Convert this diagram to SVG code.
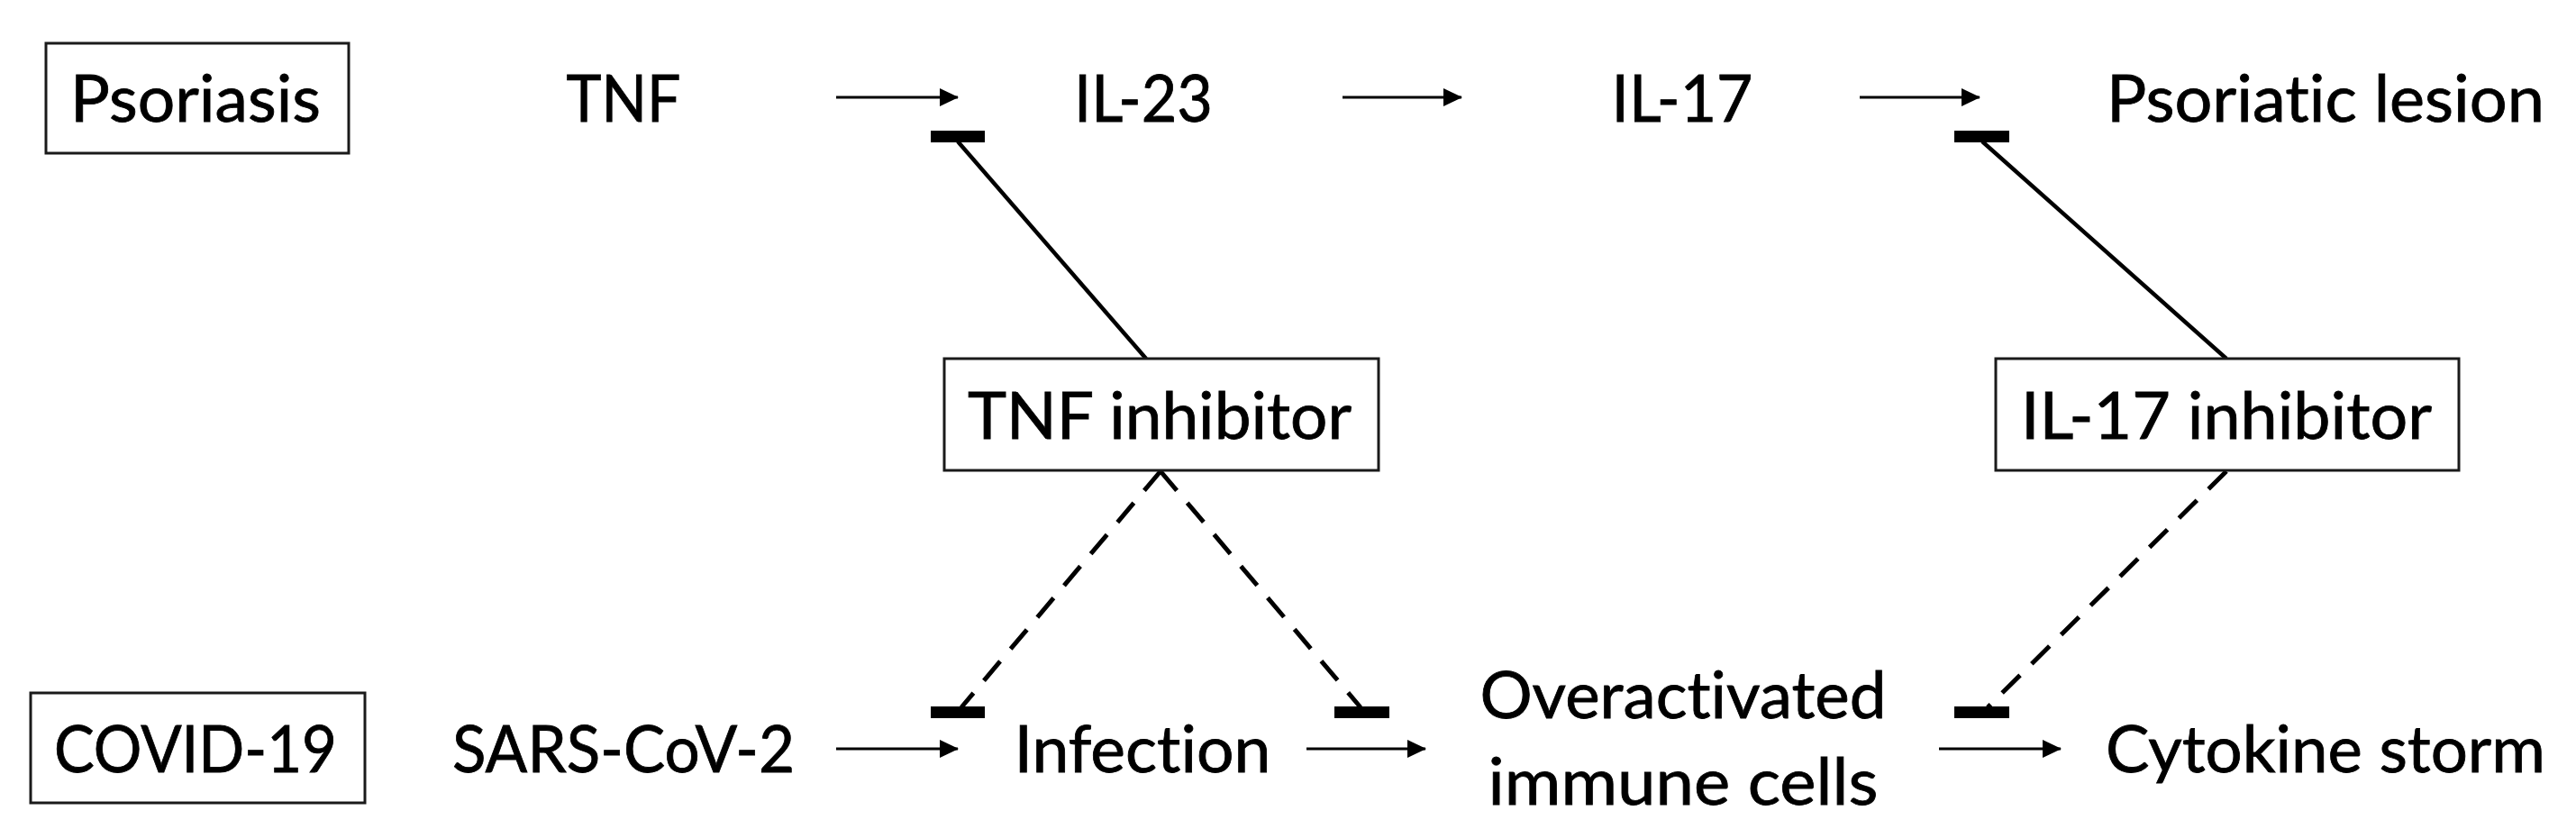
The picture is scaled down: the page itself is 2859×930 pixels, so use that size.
<svg xmlns="http://www.w3.org/2000/svg" width="2859" height="930" viewBox="0 0 2859 930">
<style>
  text { font-family: Lato, "Open Sans", "Liberation Sans", sans-serif; font-size: 71px; fill: #000; stroke: #000; stroke-width: 0.8; text-anchor: middle; font-variant-ligatures: none; font-feature-settings: "liga" 0, "clig" 0; }
  .box { fill: #fff; stroke: #1a1a1a; stroke-width: 3; }
  .arrow { stroke: #000; stroke-width: 3; fill: none; marker-end: url(#head); }
  .inh { stroke: #000; stroke-width: 4.5; fill: none; }
  .dash { stroke: #000; stroke-width: 5; fill: none; stroke-dasharray: 28 18; }
  .bar { fill: #000; }
</style>
<defs>
  <marker id="head" markerUnits="userSpaceOnUse" markerWidth="22" markerHeight="22" refX="20" refY="10" orient="auto">
    <path d="M0,0 L21,10 L0,20 z" fill="#000"/>
  </marker>
</defs>
<rect width="2859" height="930" fill="#fff"/>

<g id="connectors">
  <line class="arrow" x1="928" y1="108" x2="1063" y2="108"/>
  <line class="arrow" x1="1490" y1="108" x2="1622" y2="108"/>
  <line class="arrow" x1="2064" y1="108" x2="2197" y2="108"/>
  <line class="arrow" x1="928" y1="831" x2="1063" y2="831"/>
  <line class="arrow" x1="1450" y1="831" x2="1582" y2="831"/>
  <line class="arrow" x1="2152" y1="831" x2="2287" y2="831"/>

  <line class="inh" x1="1063" y1="157" x2="1272" y2="398"/>
  <line class="inh" x1="2200" y1="157" x2="2471" y2="398"/>
  <rect class="bar" x="1033" y="145" width="60" height="13"/>
  <rect class="bar" x="2169" y="145" width="61" height="13"/>

  <line class="dash" x1="1288" y1="523" x2="1067" y2="785"/>
  <line class="dash" x1="1288" y1="523" x2="1510" y2="785"/>
  <line class="dash" x1="2471" y1="523" x2="2206" y2="785"/>
  <rect class="bar" x="1033" y="784" width="60" height="13"/>
  <rect class="bar" x="1481" y="784" width="61" height="13"/>
  <rect class="bar" x="2169" y="784" width="61" height="13"/>
</g>

<g id="psoriasis">
  <rect class="box" x="51" y="48" width="336" height="122"/>
  <text x="217" y="135" textLength="278" lengthAdjust="spacingAndGlyphs">Psoriasis</text>
</g>
<g id="tnf"><text x="692" y="135" textLength="127" lengthAdjust="spacingAndGlyphs">TNF</text></g>
<g id="il23"><text x="1269" y="135" textLength="154" lengthAdjust="spacingAndGlyphs">IL-23</text></g>
<g id="il17"><text x="1867" y="135" textLength="157" lengthAdjust="spacingAndGlyphs">IL-17</text></g>
<g id="psoriatic-lesion"><text x="2581" y="135" textLength="486" lengthAdjust="spacingAndGlyphs">Psoriatic lesion</text></g>

<g id="tnf-inhibitor">
  <rect class="box" x="1048" y="398" width="482" height="124"/>
  <text x="1287" y="487" textLength="426" lengthAdjust="spacingAndGlyphs">TNF inhibitor</text>
</g>
<g id="il17-inhibitor">
  <rect class="box" x="2215" y="398" width="514" height="124"/>
  <text x="2471" y="487" textLength="456" lengthAdjust="spacingAndGlyphs">IL-17 inhibitor</text>
</g>

<g id="covid19">
  <rect class="box" x="34" y="769" width="371" height="122"/>
  <text x="217" y="857" textLength="314" lengthAdjust="spacingAndGlyphs">COVID-19</text>
</g>
<g id="sars-cov-2"><text x="692" y="857" textLength="380" lengthAdjust="spacingAndGlyphs">SARS-CoV-2</text></g>
<g id="infection"><text x="1268" y="857" textLength="285" lengthAdjust="spacingAndGlyphs">Infection</text></g>
<g id="overactivated-immune-cells">
  <text x="1868" y="797" textLength="451" lengthAdjust="spacingAndGlyphs">Overactivated</text>
  <text x="1868" y="893" textLength="433" lengthAdjust="spacingAndGlyphs">immune cells</text>
</g>
<g id="cytokine-storm"><text x="2581" y="857" textLength="488" lengthAdjust="spacingAndGlyphs">Cytokine storm</text></g>
</svg>
